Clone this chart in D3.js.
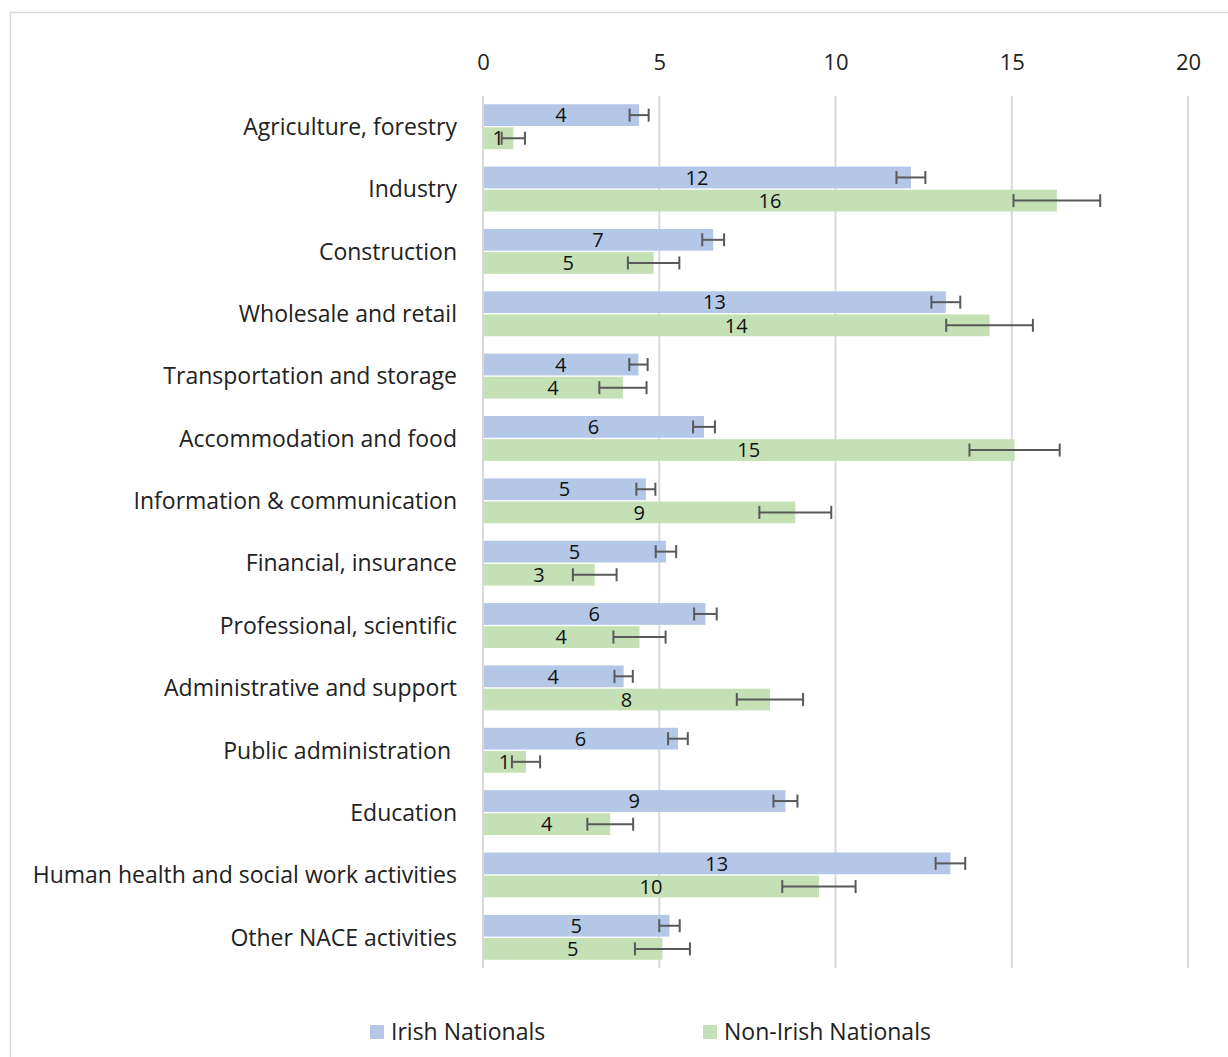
<!DOCTYPE html>
<html><head><meta charset="utf-8">
<script src="https://cdn.jsdelivr.net/npm/d3@7"></script>
<style>
html,body{margin:0;padding:0;background:#fff;}
svg text{font-family:"Open Sans",sans-serif;}
</style></head>
<body>
<script>
const categories = ["Agriculture, forestry","Industry","Construction","Wholesale and retail","Transportation and storage","Accommodation and food","Information & communication","Financial, insurance","Professional, scientific","Administrative and support","Public administration ","Education","Human health and social work activities","Other NACE activities"];
const seriesNames = ["Irish Nationals","Non-Irish Nationals"];
const irishValues =    [4.43,12.14,6.53,13.13,4.41,6.27,4.62,5.19,6.31,3.99,5.53,8.58,13.26,5.29];
const irishErrors =    [0.27,0.41,0.31,0.41,0.26,0.31,0.27,0.29,0.32,0.26,0.28,0.34,0.42,0.29];
const nonIrishValues = [0.86,16.28,4.84,14.37,3.97,15.08,8.86,3.17,4.44,8.14,1.22,3.61,9.53,5.09];
const nonIrishErrors = [0.33,1.23,0.73,1.23,0.67,1.28,1.02,0.62,0.74,0.94,0.40,0.65,1.04,0.78];
const xTicks = [0,5,10,15,20];
const colors = ["#B4C7E7","#C5E0B4"];

const W = 1228, H = 1057;
const svg = d3.select("body").append("svg").attr("width",W).attr("height",H);

// outer frame
svg.append("rect").attr("x",10.5).attr("y",12.5).attr("width",1240).attr("height",1080)
  .attr("fill","#fff").attr("stroke","#d9d9d9").attr("stroke-width",1.5);

const x = d3.scaleLinear().domain([0,20]).range([483,1188]);
const y = d3.scaleBand().domain(categories).range([95.5,968.5]).paddingInner(0.28).paddingOuter(0.14);
const ySub = d3.scaleBand().domain(seriesNames).range([0,y.bandwidth()]).paddingInner(0.06);

// gridlines
svg.append("g").selectAll("line").data(xTicks).join("line")
  .attr("x1",d=>x(d)).attr("x2",d=>x(d)).attr("y1",96).attr("y2",968)
  .attr("stroke","#d9d9d9").attr("stroke-width",2);

// top axis labels
const axis = d3.axisTop(x).tickValues(xTicks).tickSize(0).tickPadding(0);
const ag = svg.append("g").attr("transform","translate(0,70)").call(axis);
ag.select(".domain").remove();
ag.selectAll("text").attr("font-size",22).attr("fill","#222").attr("font-family","Open Sans, sans-serif");

const rows = categories.map((c,i)=>({c, vals:[
  {s:seriesNames[0], v:irishValues[i], e:irishErrors[i], col:colors[0]},
  {s:seriesNames[1], v:nonIrishValues[i], e:nonIrishErrors[i], col:colors[1]}]}));

const g = svg.append("g").selectAll("g").data(rows).join("g")
  .attr("transform",d=>`translate(0,${y(d.c)})`);

g.selectAll("rect").data(d=>d.vals).join("rect")
  .attr("x",x(0)+1).attr("y",d=>ySub(d.s)).attr("height",ySub.bandwidth())
  .attr("width",d=>x(d.v)-x(0)-1).attr("fill",d=>d.col);

// labels
g.selectAll("text.val").data(d=>d.vals).join("text").attr("class","val")
  .attr("x",d=>(x(0)+x(d.v))/2).attr("y",d=>ySub(d.s)+ySub.bandwidth()/2)
  .attr("dy","0.36em").attr("text-anchor","middle").attr("font-size",20).attr("fill","#111")
  .text(d=>d3.format(".0f")(d.v));

// error bars
const eb = g.selectAll("g.err").data(d=>d.vals).join("g").attr("class","err")
  .attr("transform",d=>`translate(0,${ySub(d.s)+ySub.bandwidth()/2})`);
eb.append("line").attr("x1",d=>x(d.v-d.e)).attr("x2",d=>x(d.v+d.e)).attr("stroke","#595959").attr("stroke-width",2);
eb.append("line").attr("x1",d=>x(d.v-d.e)).attr("x2",d=>x(d.v-d.e)).attr("y1",-6.5).attr("y2",6.5).attr("stroke","#595959").attr("stroke-width",2);
eb.append("line").attr("x1",d=>x(d.v+d.e)).attr("x2",d=>x(d.v+d.e)).attr("y1",-6.5).attr("y2",6.5).attr("stroke","#595959").attr("stroke-width",2);

// category labels
svg.append("g").selectAll("text").data(categories).join("text")
  .attr("x",457).attr("y",d=>y(d)+y.bandwidth()/2).attr("dy","0.36em")
  .attr("text-anchor","end").attr("font-size",23).attr("fill","#222")
  .style("white-space","pre").text(d=>d);

// legend
const legendX = [370,703];
const lg = svg.append("g").selectAll("g").data(seriesNames).join("g")
  .attr("transform",(d,i)=>`translate(${legendX[i]},1032)`);
lg.append("rect").attr("x",0).attr("y",-7).attr("width",14).attr("height",14).attr("fill",(d,i)=>colors[i]);
lg.append("text").attr("x",21).attr("dy","0.36em").attr("font-size",23).attr("fill","#222").text(d=>d);
</script>
</body></html>
